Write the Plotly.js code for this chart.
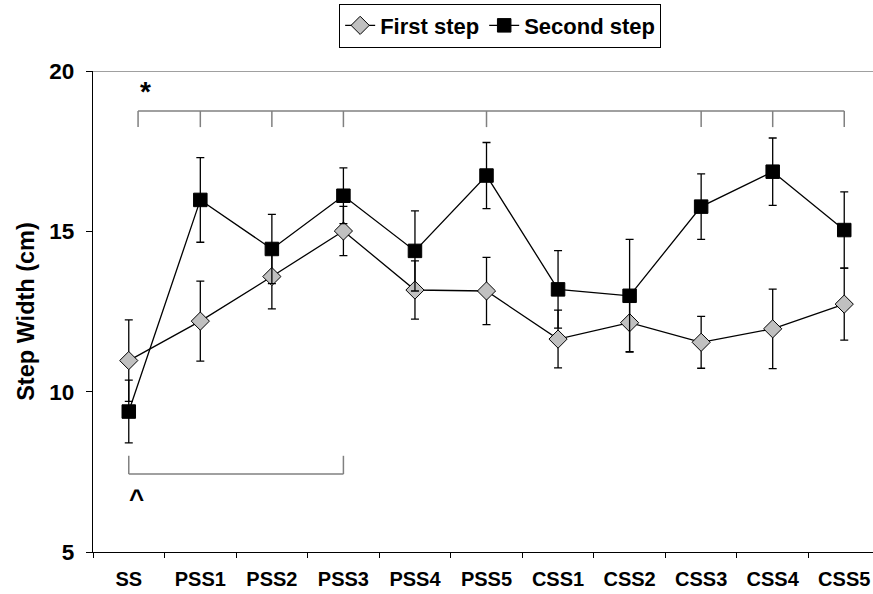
<!DOCTYPE html>
<html><head><meta charset="utf-8">
<script src="https://cdn.plot.ly/plotly-3.0.1.min.js"></script>
<style>html,body{margin:0;padding:0;background:#fff;overflow:hidden}</style>
</head><body>
<div id="chart" style="width:873px;height:594px"></div>
<script>
const categories = ["SS","PSS1","PSS2","PSS3","PSS4","PSS5","CSS1","CSS2","CSS3","CSS4","CSS5"];
const firstStep = [10.97, 12.20, 13.59, 15.01, 13.17, 13.14, 11.64, 12.15, 11.54, 11.96, 12.73];
const firstStepSD = [1.27, 1.25, 1.01, 0.77, 0.91, 1.05, 0.90, 0.90, 0.81, 1.24, 1.12];
const secondStep = [9.38, 15.98, 14.45, 16.11, 14.39, 16.74, 13.19, 12.99, 15.77, 16.86, 15.04];
const secondStepSD = [0.98, 1.32, 1.08, 0.87, 1.25, 1.03, 1.21, 1.76, 1.02, 1.05, 1.19];
const starBracketCats = [1, 2, 3, 5, 8, 9, 10];
const starBracketStart = 0.13;
const starBracketY = 18.75;
const caretBracket = [0, 3];
const caretBracketY = 7.43;

const font = "Liberation Sans, Arial, sans-serif";

const traces = [
  {
    name: "First step", x: categories, y: firstStep, type: "scatter", mode: "lines+markers",
    line: {color: "#000", width: 1.3},
    marker: {symbol: "diamond", size: 14, color: "#c0c0c0", line: {color: "#000", width: 1}},
    error_y: {type: "data", array: firstStepSD, visible: true, color: "#000", thickness: 1.3, width: 4}
  },
  {
    name: "Second step", x: categories, y: secondStep, type: "scatter", mode: "lines+markers",
    line: {color: "#000", width: 1.3},
    marker: {symbol: "square", size: 13.5, color: "#000", line: {color: "#000", width: 1}},
    error_y: {type: "data", array: secondStepSD, visible: true, color: "#000", thickness: 1.3, width: 4}
  }
];

const shapes = [];
const gray = {color: "#808080", width: 1.5};
shapes.push({type: "line", xref: "paper", yref: "y", x0: 0, x1: 1, y0: 20, y1: 20, line: {color: "#808080", width: 1.5}, layer: "below"});
const lastCat = starBracketCats[starBracketCats.length - 1];
shapes.push({type: "line", xref: "x", yref: "y", x0: starBracketStart, x1: lastCat, y0: starBracketY, y1: starBracketY, line: gray});
shapes.push({type: "line", xref: "x", yref: "y", x0: starBracketStart, x1: starBracketStart, y0: starBracketY, y1: starBracketY - 0.5, line: gray});
starBracketCats.forEach(c => shapes.push({type: "line", xref: "x", yref: "y", x0: c, x1: c, y0: starBracketY, y1: starBracketY - 0.5, line: gray}));
shapes.push({type: "line", xref: "x", yref: "y", x0: caretBracket[0], x1: caretBracket[1], y0: caretBracketY, y1: caretBracketY, line: gray});
caretBracket.forEach(c => shapes.push({type: "line", xref: "x", yref: "y", x0: c, x1: c, y0: caretBracketY, y1: caretBracketY + 0.57, line: gray}));

const layout = {
  width: 873, height: 594,
  margin: {l: 93, r: 0, t: 71, b: 42},
  paper_bgcolor: "#fff", plot_bgcolor: "#fff",
  font: {family: font, color: "#000"},
  showlegend: true,
  legend: {
    orientation: "h", x: 0.522, xanchor: "center", yref: "container", y: 0.994, yanchor: "top",
    font: {family: font, size: 22, weight: "bold", color: "#000"},
    bordercolor: "#000", borderwidth: 1, bgcolor: "#fff",
    itemwidth: 30, tracegroupgap: 0
  },
  xaxis: {
    type: "category", range: [-0.5, 10.402], tickson: "boundaries",
    ticks: "outside", ticklen: 5, tickcolor: "#000", tickwidth: 1,
    showline: true, linecolor: "#000", linewidth: 1.3, showgrid: false, zeroline: false,
    ticklabelstandoff: 9,
    tickfont: {family: font, size: 20, weight: "bold", color: "#000"}
  },
  yaxis: {
    range: [5, 20], tickvals: [5, 10, 15, 20], ticks: "outside", ticklen: 6, tickcolor: "#000",
    showline: true, linecolor: "#000", linewidth: 1.3, showgrid: false, zeroline: false,
    ticklabelstandoff: 7,
    tickfont: {family: font, size: 22.5, weight: "bold", color: "#000"},
    title: {text: "Step Width (cm)", font: {family: font, size: 23.5, weight: "bold", color: "#000"}, standoff: 8}
  },
  shapes: shapes,
  annotations: [
    {xref: "x", yref: "y", x: 0.24, y: 19.35, text: "*", showarrow: false, font: {family: font, size: 28, weight: "bold"}},
    {xref: "x", yref: "y", x: 0.11, y: 6.65, text: "^", showarrow: false, font: {family: font, size: 26, weight: "bold"}}
  ]
};

Plotly.newPlot("chart", traces, layout, {displayModeBar: false, staticPlot: true});
</script>
</body></html>
